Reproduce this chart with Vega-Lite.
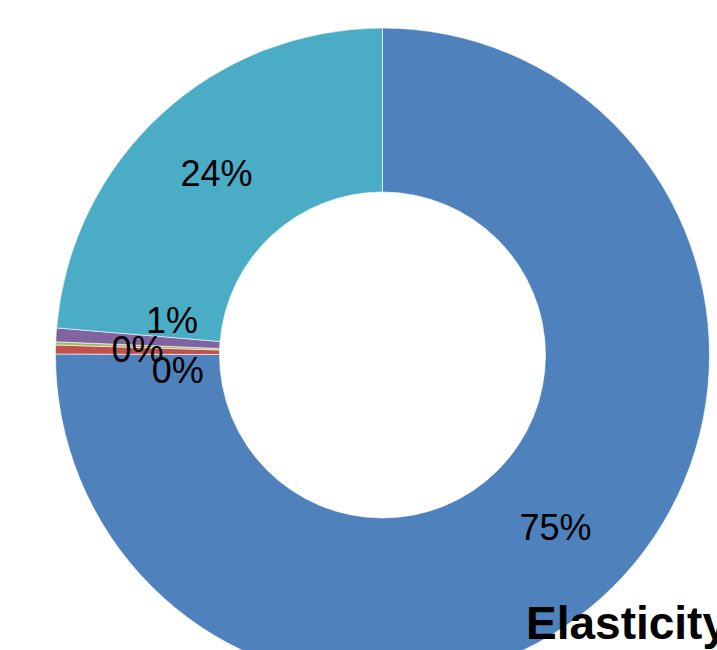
{
  "$schema": "https://vega.github.io/schema/vega-lite/v6.json",
  "width": 765,
  "height": 710,
  "autosize": "none",
  "padding": 0,
  "background": "white",
  "config": {"view": {"stroke": null}, "font": "Liberation Sans"},
  "title": {
    "text": "Elasticity",
    "orient": "bottom",
    "anchor": "start",
    "frame": "bounds",
    "offset": 0,
    "dx": 526,
    "dy": -71,
    "baseline": "alphabetic",
    "font": "Liberation Sans",
    "fontSize": 46,
    "fontWeight": "bold",
    "color": "black"
  },
  "data": {
    "values": [
      {"cat": "A", "order": 1, "value": 75.05, "label": "75%"},
      {"cat": "B", "order": 2, "value": 0.44, "label": "0%"},
      {"cat": "C", "order": 3, "value": 0.15, "label": "0%"},
      {"cat": "D", "order": 4, "value": 0.68, "label": "1%"},
      {"cat": "E", "order": 5, "value": 23.68, "label": "24%"}
    ]
  },
  "encoding": {
    "theta": {"field": "value", "type": "quantitative", "stack": true},
    "order": {"field": "order", "type": "quantitative"}
  },
  "layer": [
    {
      "mark": {"type": "arc", "outerRadius": 327, "innerRadius": 163, "stroke": "white", "strokeWidth": 0.6},
      "encoding": {
        "color": {
          "field": "cat",
          "type": "nominal",
          "scale": {"domain": ["A", "B", "C", "D", "E"], "range": ["#4F81BD", "#C0504D", "#9BBB59", "#8064A2", "#4BACC6"]},
          "legend": null
        }
      }
    },
    {
      "mark": {"type": "text", "radius": 245, "fontSize": 36, "color": "black", "baseline": "middle", "align": "center"},
      "encoding": {
        "text": {"condition": {"test": "datum.cat === 'A' || datum.cat === 'E' || datum.cat === 'B'", "field": "label"}, "value": ""}
      }
    },
    {
      "mark": {"type": "text", "radius": 245, "fontSize": 36, "color": "black", "baseline": "middle", "align": "center", "dx": 40, "dy": 26},
      "encoding": {
        "text": {"condition": {"test": "datum.cat === 'C'", "field": "label"}, "value": ""}
      }
    },
    {
      "mark": {"type": "text", "radius": 245, "fontSize": 36, "color": "black", "baseline": "middle", "align": "center", "dx": 34, "dy": -18},
      "encoding": {
        "text": {"condition": {"test": "datum.cat === 'D'", "field": "label"}, "value": ""}
      }
    }
  ]
}
